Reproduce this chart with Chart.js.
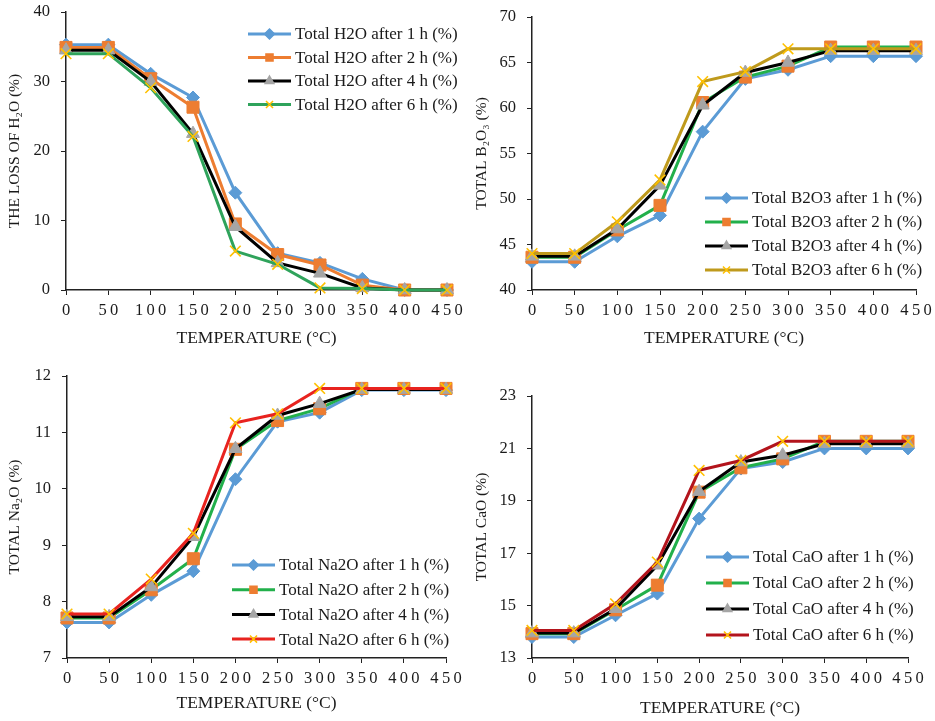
<!DOCTYPE html>
<html lang="en">
<head>
<meta charset="UTF-8">
<title>Oxide content vs temperature</title>
<script src="https://cdn.jsdelivr.net/npm/chart.js"></script>
<style>
  body { margin: 0; background: #fff; width: 935px; height: 721px; overflow: hidden; }
  .panel { position: absolute; }
</style>
</head>
<body>
<div class="panel" id="p1"><canvas id="c1"></canvas></div>
<div class="panel" id="p2"><canvas id="c2"></canvas></div>
<div class="panel" id="p3"><canvas id="c3"></canvas></div>
<div class="panel" id="p4"><canvas id="c4"></canvas></div>
<script>
// temperature categories (°C)
const temps = [0, 50, 100, 150, 200, 250, 300, 350, 400, 450];
const hours = ['1 h', '2 h', '4 h', '6 h'];

// loss of H2O (%)
const h2o1h = [35.3, 35.3, 31.1, 27.7, 14.0, 5.3, 3.9, 1.6, 0, 0];
const h2o2h = [34.9, 34.9, 30.4, 26.3, 9.5, 5.1, 3.6, 0.7, 0, 0];
const h2o4h = [34.5, 34.5, 30.0, 22.5, 9.1, 3.9, 2.4, 0.3, 0, 0];
const h2o6h = [34.0, 34.0, 29.1, 22.1, 5.6, 3.7, 0.3, 0.2, 0, 0];

// total B2O3 (%)
const b2o3_1h = [43.1, 43.1, 45.9, 48.2, 57.4, 63.2, 64.2, 65.7, 65.7, 65.7];
const b2o3_2h = [43.6, 43.6, 46.6, 49.3, 60.6, 63.4, 64.6, 66.7, 66.7, 66.7];
const b2o3_4h = [43.7, 43.7, 46.7, 51.5, 60.3, 63.9, 65.0, 66.3, 66.3, 66.3];
const b2o3_6h = [44.0, 44.0, 47.5, 52.1, 62.9, 64.0, 66.5, 66.5, 66.5, 66.5];

// total Na2O (%)
const na2o1h = [7.63, 7.63, 8.12, 8.54, 10.17, 11.19, 11.35, 11.75, 11.75, 11.75];
const na2o2h = [7.71, 7.71, 8.21, 8.76, 10.70, 11.21, 11.42, 11.78, 11.78, 11.78];
const na2o4h = [7.73, 7.73, 8.26, 9.15, 10.71, 11.30, 11.51, 11.76, 11.76, 11.76];
const na2o6h = [7.78, 7.78, 8.40, 9.21, 11.17, 11.33, 11.78, 11.78, 11.78, 11.78];

// total CaO (%)
const cao1h = [13.8, 13.8, 14.63, 15.46, 18.32, 20.23, 20.48, 21.0, 21.0, 21.0];
const cao2h = [13.93, 13.93, 14.84, 15.78, 19.33, 20.26, 20.6, 21.27, 21.27, 21.27];
const cao4h = [13.95, 13.95, 14.88, 16.54, 19.35, 20.48, 20.74, 21.18, 21.18, 21.18];
const cao6h = [14.05, 14.05, 15.07, 16.66, 20.16, 20.54, 21.27, 21.27, 21.27, 21.27];

const serif = '"Liberation Serif", "Times New Roman", serif';
const blue = '#5b9bd5', orange = '#ed7d31', gray = '#a5a5a5', yellow = '#ffc000';

const markers = [
  { style: 'rectRot', color: blue, r: 6.5 },
  { style: 'rect', color: orange, r: 8.5 },
  { style: 'triangle', color: gray, r: 7.5 },
  { style: 'crossRot', color: yellow, r: 7.5 }
];

function series(label, data, lineColor, i) {
  const m = markers[i];
  return {
    label: label,
    data: data,
    borderColor: lineColor,
    borderWidth: 3,
    pointStyle: m.style,
    pointRadius: m.r,
    pointBackgroundColor: m.color,
    pointBorderColor: m.color,
    pointBorderWidth: m.style === 'crossRot' ? 1.6 : 1,
    tension: 0,
    clip: false,
    order: 3 - i
  };
}

// small legend drawn inside the plot like the original
const lineLegend = {
  id: 'lineLegend',
  afterDraw(chart, args, opts) {
    const ctx = chart.ctx;
    ctx.save();
    ctx.font = '17px ' + serif;
    ctx.textBaseline = 'middle';
    chart.data.datasets.forEach((ds, i) => {
      const y = opts.y + i * opts.dy;
      ctx.strokeStyle = ds.borderColor;
      ctx.lineWidth = 3;
      ctx.beginPath();
      ctx.moveTo(opts.x, y);
      ctx.lineTo(opts.x + opts.len, y);
      ctx.stroke();
      ctx.fillStyle = ds.pointBackgroundColor;
      ctx.strokeStyle = ds.pointBorderColor;
      ctx.lineWidth = 1.5;
      Chart.helpers.drawPoint(ctx, { pointStyle: ds.pointStyle, radius: 5, borderWidth: 1.5, rotation: 0 },
        opts.x + opts.len / 2, y);
      ctx.fillStyle = '#1a1a1a';
      ctx.fillText(ds.label, opts.x + opts.len + 4, y + 1);
    });
    ctx.restore();
  }
};

function spaced(v) {
  return String(v).split('').join('\u2009');
}

function makeChart(n, box, area, yTitle, yRange, xTitleH, datasets, legendPos) {
  const div = document.getElementById('p' + n);
  div.style.left = box.left + 'px';
  div.style.top = box.top + 'px';
  div.style.width = box.w + 'px';
  div.style.height = box.h + 'px';
  const yW = area.x0 - box.left;
  const bottomPad = box.top + box.h - area.y1 - xTitleH;
  new Chart(document.getElementById('c' + n), {
    type: 'line',
    data: { labels: temps, datasets: datasets },
    plugins: [lineLegend],
    options: {
      responsive: true,
      maintainAspectRatio: false,
      animation: false,
      layout: {
        padding: {
          left: 0,
          top: area.y0 - box.top,
          right: box.left + box.w - area.x1,
          bottom: bottomPad
        }
      },
      plugins: {
        legend: { display: false },
        tooltip: { enabled: false },
        lineLegend: {
          x: legendPos.x - box.left,
          y: legendPos.y - box.top,
          dy: legendPos.dy,
          len: 43
        }
      },
      scales: {
        x: {
          type: 'category',
          offset: false,
          afterFit: s => { s.height = xTitleH; s.paddingLeft = 0; s.paddingRight = 0; },
          grid: { drawOnChartArea: false, drawTicks: true, tickLength: 5, color: '#222', offset: false },
          border: { color: '#222', width: 1.5 },
          ticks: {
            color: '#1a1a1a',
            font: { family: serif, size: 16.5 },
            padding: 6,
            maxRotation: 0,
            autoSkip: false,
            callback: function (v) { return spaced(this.getLabelForValue(v)); }
          },
          title: {
            display: true,
            text: 'TEMPERATURE (°C)',
            color: '#1a1a1a',
            font: { family: serif, size: 17.5 },
            padding: { top: 2, bottom: 1 }
          }
        },
        y: {
          min: yRange.min,
          max: yRange.max,
          afterFit: s => { s.width = yW; s.paddingTop = 0; s.paddingBottom = 0; },
          grid: { drawOnChartArea: false, drawTicks: true, tickLength: 5, color: '#222' },
          border: { color: '#222', width: 1.5 },
          ticks: {
            stepSize: yRange.step,
            color: '#1a1a1a',
            font: { family: serif, size: 16.5 },
            padding: 11
          },
          title: {
            display: true,
            text: yTitle,
            color: '#1a1a1a',
            font: { family: serif, size: 15.5 },
            padding: { top: 6, bottom: 0 }
          }
        }
      }
    }
  });
}

makeChart(1,
  { left: 0, top: 0, w: 467, h: 360 },
  { x0: 66, x1: 447, y0: 12, y1: 290 },
  'THE LOSS OF H₂O (%)', { min: 0, max: 40, step: 10 }, 60,
  [
    series('Total H2O after ' + hours[0] + ' (%)', h2o1h, blue, 0),
    series('Total H2O after ' + hours[1] + ' (%)', h2o2h, orange, 1),
    series('Total H2O after ' + hours[2] + ' (%)', h2o4h, '#000000', 2),
    series('Total H2O after ' + hours[3] + ' (%)', h2o6h, '#2fa35b', 3)
  ],
  { x: 248, y: 34, dy: 23.5 });

makeChart(2,
  { left: 467, top: 0, w: 468, h: 360 },
  { x0: 532, x1: 916, y0: 17, y1: 290 },
  'TOTAL B₂O₃ (%)', { min: 40, max: 70, step: 5 }, 60,
  [
    series('Total B2O3 after ' + hours[0] + ' (%)', b2o3_1h, blue, 0),
    series('Total B2O3 after ' + hours[1] + ' (%)', b2o3_2h, '#22b04b', 1),
    series('Total B2O3 after ' + hours[2] + ' (%)', b2o3_4h, '#000000', 2),
    series('Total B2O3 after ' + hours[3] + ' (%)', b2o3_6h, '#bf9a1c', 3)
  ],
  { x: 705, y: 198, dy: 24 });

makeChart(3,
  { left: 0, top: 360, w: 467, h: 361 },
  { x0: 67, x1: 446, y0: 376, y1: 658 },
  'TOTAL Na₂O (%)', { min: 7, max: 12, step: 1 }, 57,
  [
    series('Total Na2O after ' + hours[0] + ' (%)', na2o1h, blue, 0),
    series('Total Na2O after ' + hours[1] + ' (%)', na2o2h, '#22b04b', 1),
    series('Total Na2O after ' + hours[2] + ' (%)', na2o4h, '#000000', 2),
    series('Total Na2O after ' + hours[3] + ' (%)', na2o6h, '#e8231f', 3)
  ],
  { x: 232, y: 565, dy: 24.7 });

makeChart(4,
  { left: 467, top: 360, w: 468, h: 361 },
  { x0: 532, x1: 908, y0: 396, y1: 658 },
  'TOTAL CaO (%)', { min: 13, max: 23, step: 2 }, 62,
  [
    series('Total CaO after ' + hours[0] + ' (%)', cao1h, blue, 0),
    series('Total CaO after ' + hours[1] + ' (%)', cao2h, '#22b04b', 1),
    series('Total CaO after ' + hours[2] + ' (%)', cao4h, '#000000', 2),
    series('Total CaO after ' + hours[3] + ' (%)', cao6h, '#b3141c', 3)
  ],
  { x: 706, y: 557, dy: 26 });
</script>
</body>
</html>
